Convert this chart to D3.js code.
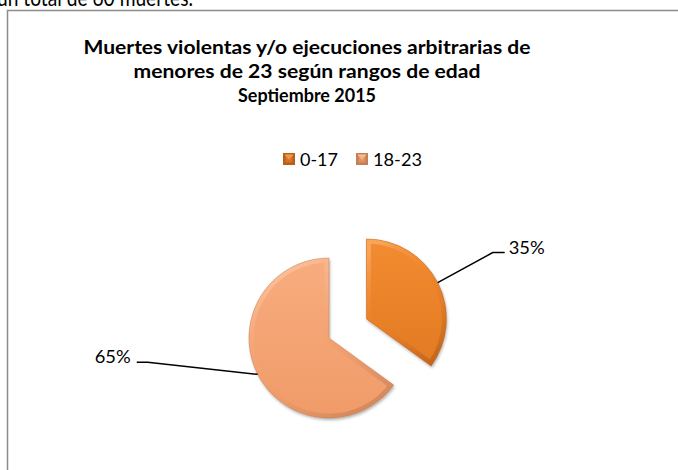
<!DOCTYPE html>
<html><head><meta charset="utf-8">
<script src="https://cdn.jsdelivr.net/npm/d3@7"></script>
<style>
html,body{margin:0;padding:0;background:#fff;}
svg{display:block;}
text{font-family:Lato,"Open Sans",sans-serif;}
</style></head>
<body>
<svg id="chart" width="678" height="470"></svg>
<script>
// ---- data ----
const categories = ["0-17", "18-23"];
const deaths = [21, 39];            // total 60 muertes -> 35% / 65%
const percentLabels = ["35%", "65%"];
const titleLines = [
  "Muertes violentas y/o ejecuciones arbitrarias de",
  "menores de 23 según rangos de edad",
  "Septiembre 2015"
];
const contextText = "un total de 60 muertes.";

// ---- layout ----
const svg = d3.select("#chart");
const W = 678, H = 470;
const cx = 329, cy = 338, R = 80, explode = 42;

const palette = [
  {base:"#F0842A", light:"#FBAE62", dark:"#B65E1A", top:"#F38B31", bottom:"#E27A23"},
  {base:"#F6A371", light:"#FDD0AE", dark:"#C47F56", top:"#F8AC7E", bottom:"#F09B69"}
];

const defs = svg.append("defs");
palette.forEach((p,i)=>{
  const g = defs.append("linearGradient").attr("id","fill"+i)
    .attr("x1",0).attr("y1",0).attr("x2",0).attr("y2",1);
  g.append("stop").attr("offset","0%").attr("stop-color",p.top);
  g.append("stop").attr("offset","100%").attr("stop-color",p.bottom);
  const b = defs.append("linearGradient").attr("id","bevel"+i)
    .attr("x1",0.2).attr("y1",0).attr("x2",0.8).attr("y2",1);
  b.append("stop").attr("offset","0%").attr("stop-color",p.light);
  b.append("stop").attr("offset","45%").attr("stop-color",p.base).attr("stop-opacity",0.2);
  b.append("stop").attr("offset","100%").attr("stop-color",p.dark);
});
const sh = defs.append("filter").attr("id","shadow").attr("x","-20%").attr("y","-20%").attr("width","140%").attr("height","140%");
sh.append("feDropShadow").attr("dx",1).attr("dy",2).attr("stdDeviation",1.6).attr("flood-color","#000").attr("flood-opacity",0.3);

// context text (partly cut off at top, as in the source page)
svg.append("text").attr("x",-3).attr("y",6)
  .attr("font-size",24).attr("fill","#000")
  .attr("textLength",196).attr("lengthAdjust","spacingAndGlyphs")
  .text(contextText);

// chart border
svg.append("path").attr("d",`M7.5,${H} V10.5 H${W}`)
  .attr("fill","none").attr("stroke","#8c8c8c").attr("stroke-width",1.5);

// title
const titleX = 307, titleWidths = [447, 347, 138], titleY = [54, 78, 102];
svg.append("g").selectAll("text").data(titleLines).join("text")
  .attr("x",titleX).attr("y",(d,i)=>titleY[i])
  .attr("text-anchor","middle").attr("font-weight","bold").attr("font-size",18.5)
  .attr("textLength",(d,i)=>titleWidths[i]).attr("lengthAdjust","spacingAndGlyphs")
  .text(d=>d);

// legend
const legX = [283, 356], legTextW = [38, 49];
const leg = svg.append("g").selectAll("g").data(categories).join("g")
  .attr("transform",(d,i)=>`translate(${legX[i]},153)`);
leg.append("rect").attr("width",12).attr("height",12)
  .attr("fill",(d,i)=>palette[i].dark);
leg.append("path").attr("d","M1.5,1.5 H10.5 L6,7 Z")
  .attr("fill",(d,i)=>palette[i].light).attr("opacity",0.9);
leg.append("rect").attr("x",2.5).attr("y",2.5).attr("width",7).attr("height",7)
  .attr("fill",(d,i)=>palette[i].base).attr("opacity",0.55);
leg.append("text").attr("x",17).attr("y",12.5).attr("font-size",17)
  .attr("textLength",(d,i)=>legTextW[i]).attr("lengthAdjust","spacingAndGlyphs")
  .text(d=>d);

// pie
const pie = d3.pie().sort(null).value(d=>d)(deaths);
const arc = d3.arc().innerRadius(0).outerRadius(R);
const offsets = [explode, 0];

const slices = svg.append("g").selectAll("g").data(pie).join("g")
  .attr("transform",(d,i)=>{
    const a = (d.startAngle+d.endAngle)/2;
    return `translate(${cx + offsets[i]*Math.sin(a)},${cy - offsets[i]*Math.cos(a)})`;
  });
slices.each(function(d,i){
  const g = d3.select(this);
  const path = arc(d);
  defs.append("clipPath").attr("id","clip"+i).append("path").attr("d",path);
  g.append("path").attr("d",path).attr("fill",`url(#fill${i})`).attr("filter","url(#shadow)");
  g.append("path").attr("d",path).attr("fill","none")
    .attr("stroke",`url(#bevel${i})`).attr("stroke-width",9)
    .attr("stroke-linejoin","round")
    .attr("clip-path",`url(#clip${i})`).attr("opacity",0.75);
  g.append("path").attr("d",path).attr("fill","none")
    .attr("stroke",palette[i].dark).attr("stroke-width",0.8).attr("opacity",0.6);
});

// leader lines and labels
const elbow = [[55,-30],[-110,-12]], tail = [12,-11];
pie.forEach((d,i)=>{
  const a = (d.startAngle+d.endAngle)/2;
  const ox = cx + offsets[i]*Math.sin(a), oy = cy - offsets[i]*Math.cos(a);
  const sx = ox + R*Math.sin(a), sy = oy - R*Math.cos(a);
  const ex = sx + elbow[i][0], ey = sy + elbow[i][1];
  const tx = ex + tail[i];
  svg.append("path").attr("d",`M${sx},${sy} L${ex},${ey} L${tx},${ey}`)
    .attr("fill","none").attr("stroke","#000").attr("stroke-width",1.5);
  const right = i===0;
  svg.append("text").attr("x", right ? tx+4 : tx-6).attr("y", ey+1)
    .attr("text-anchor", right ? "start" : "end").attr("font-size",17)
    .attr("textLength",36).attr("lengthAdjust","spacingAndGlyphs")
    .text(percentLabels[i]);
});
</script>
</body></html>
